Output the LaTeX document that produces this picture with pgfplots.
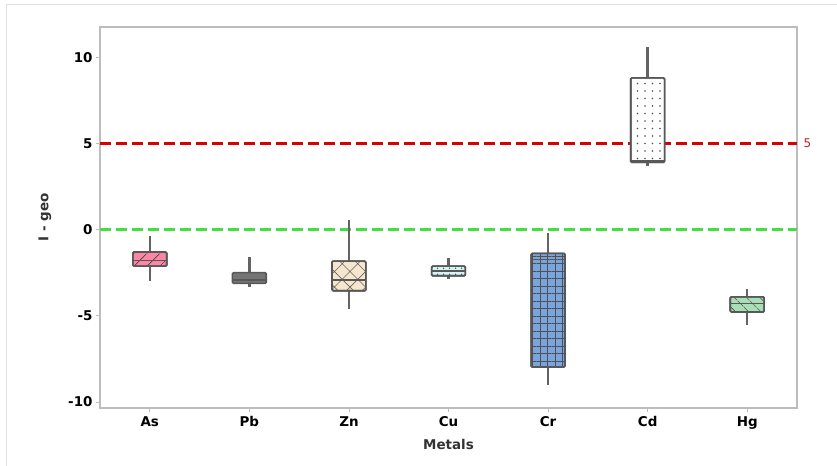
\documentclass[border=0pt]{standalone}
\usepackage{pgfplots}
\pgfplotsset{compat=1.18}
\usepgfplotslibrary{statistics}
\usetikzlibrary{patterns.meta}
\usepackage{fontspec}
\setmainfont{DejaVu Sans}
\definecolor{axgray}{HTML}{BDBDBD}
\definecolor{boxedge}{HTML}{585858}
\definecolor{whisk}{HTML}{636363}
\definecolor{patc}{HTML}{505050}
\definecolor{refred}{HTML}{D80000}
\definecolor{refgreen}{HTML}{44DD44}
\definecolor{lblred}{HTML}{B22222}
\definecolor{cAs}{HTML}{FF85A6}
\definecolor{cPb}{HTML}{757575}
\definecolor{cZn}{HTML}{F6E6CD}
\definecolor{cCu}{HTML}{D6F4F6}
\definecolor{cCr}{HTML}{7AA5DC}
\definecolor{cCd}{HTML}{FFFFFF}
\definecolor{cHg}{HTML}{A8E0B6}
\definecolor{labgray}{HTML}{333333}
\begin{document}
\begin{tikzpicture}
\useasboundingbox (0,0) rectangle (837bp,466bp);
\draw[color=black!12, line width=0.8bp] (6bp,0) -- (6bp,462bp) -- (837bp,462bp);
\begin{axis}[
  at={(100bp,58bp)}, anchor=south west,
  scale only axis, width=697bp, height=381bp,
  xmin=-0.5, xmax=6.5, ymin=-10.35, ymax=11.75,
  xtick={0,1,2,3,4,5,6},
  xticklabels={As,Pb,Zn,Cu,Cr,Cd,Hg},
  ytick={-10,-5,0,5,10},
  axis line style={color=axgray, line width=1.3bp},
  tick style={color=axgray, line width=0.8bp},
  major tick length=4bp, tick align=outside,
  xtick pos=bottom, ytick pos=left,
  /pgf/number format/assume math mode=true,
  ticklabel style={font=\fontsize{13.5}{15}\selectfont\bfseries, text=black},
  xticklabel style={yshift=-1bp},
  xlabel={Metals}, ylabel={I - geo},
  xlabel style={font=\fontsize{13.5}{15}\selectfont\bfseries, text=labgray, at={(axis description cs:0.5,-0.097)}, anchor=center},
  ylabel style={font=\fontsize{13.5}{15}\selectfont\bfseries, text=labgray, at={(axis description cs:-0.079,0.5)}, anchor=center},
  clip=false,
  boxplot/draw direction=y,
  boxplot/box extend=0.34,
  boxplot/whisker extend=0,
  boxplot/every whisker/.style={draw=whisk, line width=2.3bp},
  boxplot/every median/.style={draw=boxedge, line width=1.6bp},
]
\addplot[color=refgreen, line width=2.4bp, dash pattern=on 11bp off 5bp] coordinates {(-0.5,0) (6.5,0)};
\addplot[color=refred, line width=2.8bp, dash pattern=on 11bp off 5bp] coordinates {(-0.5,5) (6.5,5)};
\node[anchor=west, text=lblred, font=\fontsize{12}{14}\selectfont] at (axis cs:6.5,5) {\hspace{3bp}5};

\addplot[boxplot prepared={draw position=0, lower whisker=-2.97, lower quartile=-2.12, median=-1.8, upper quartile=-1.3, upper whisker=-0.38},
  draw=boxedge, line width=1.6bp,
  boxplot/every box/.style={fill=cAs, rounded corners=1.2bp, postaction={pattern={Lines[angle=45,distance=10bp,line width=1bp]}, pattern color=patc}}] coordinates {};
\addplot[boxplot prepared={draw position=1, lower whisker=-3.35, lower quartile=-3.12, median=-2.93, upper quartile=-2.5, upper whisker=-1.61},
  draw=boxedge, line width=1.6bp,
  boxplot/every box/.style={fill=cPb, rounded corners=1.2bp}] coordinates {};
\addplot[boxplot prepared={draw position=2, lower whisker=-4.63, lower quartile=-3.55, median=-2.91, upper quartile=-1.83, upper whisker=0.55},
  draw=boxedge, line width=1.6bp,
  boxplot/every box/.style={fill=cZn, rounded corners=1.2bp, postaction={pattern={Hatch[angle=45,distance=11bp,line width=0.6bp]}, pattern color=whisk}}] coordinates {};
\addplot[boxplot prepared={draw position=3, lower whisker=-2.87, lower quartile=-2.68, median=-2.42, upper quartile=-2.12, upper whisker=-1.67},
  draw=boxedge, line width=1.6bp,
  boxplot/every box/.style={fill=cCu, rounded corners=1.2bp, postaction={pattern={Dots[distance=6bp,radius=0.8bp]}, pattern color=patc}}] coordinates {};
\addplot[boxplot prepared={draw position=4, lower whisker=-9.03, lower quartile=-7.97, median=-1.73, upper quartile=-1.38, upper whisker=-0.22},
  draw=boxedge, line width=1.6bp,
  boxplot/every box/.style={fill=cCr, rounded corners=1.2bp, postaction={pattern={Hatch[angle=0,distance=7.5bp,line width=0.8bp]}, pattern color=patc}}] coordinates {};
\addplot[boxplot prepared={draw position=5, lower whisker=3.68, lower quartile=3.9, median=3.97, upper quartile=8.8, upper whisker=10.58},
  draw=boxedge, line width=1.6bp,
  boxplot/every box/.style={fill=cCd, rounded corners=1.2bp, postaction={pattern={Dots[distance=7.5bp,radius=0.9bp]}, pattern color=patc}}] coordinates {};
\addplot[boxplot prepared={draw position=6, lower whisker=-5.54, lower quartile=-4.78, median=-4.28, upper quartile=-3.9, upper whisker=-3.45},
  draw=boxedge, line width=1.6bp,
  boxplot/every box/.style={fill=cHg, rounded corners=1.2bp, postaction={pattern={Lines[angle=-45,distance=10bp,line width=1bp]}, pattern color=patc}}] coordinates {};
\end{axis}
\end{tikzpicture}
\end{document}
